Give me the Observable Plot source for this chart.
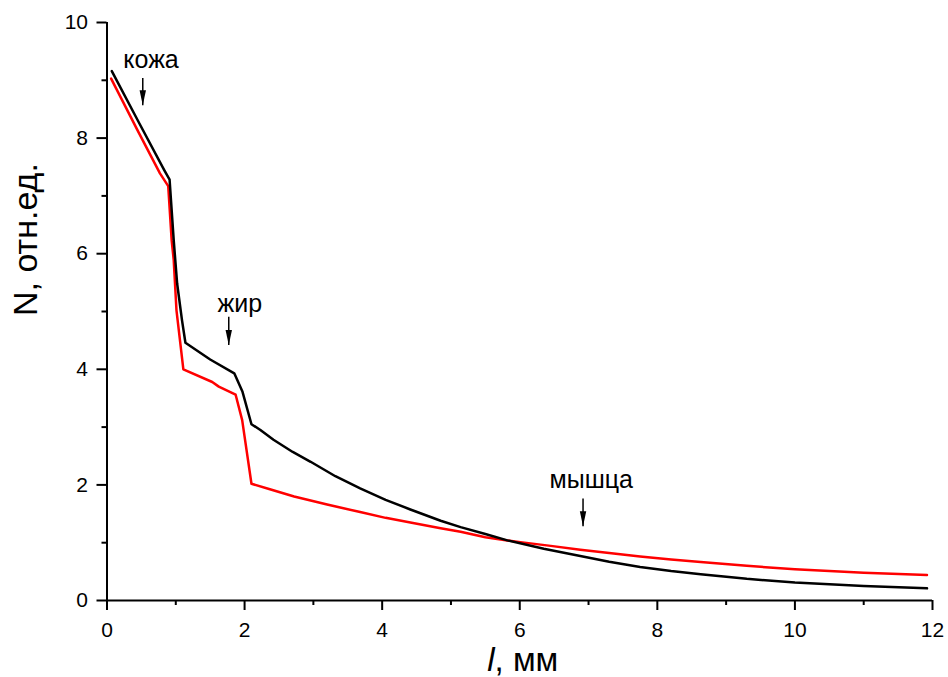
<!DOCTYPE html>
<html>
<head>
<meta charset="utf-8">
<script src="https://cdn.jsdelivr.net/npm/d3@7"></script>
<script src="https://cdn.jsdelivr.net/npm/@observablehq/plot@0.6"></script>
<style>
  html, body { margin: 0; padding: 0; background: #fff; }
</style>
</head>
<body>
<div id="chart"></div>
<script>
// Signal N versus depth l: black and red profiles through skin, fat and muscle
const lBlack = [0.07, 0.45, 0.83, 0.91, 0.97, 1.02, 1.09, 1.14, 1.50, 1.85, 1.97, 2.10, 2.23, 2.42, 2.70, 2.96, 3.32, 3.68, 4.05, 4.41, 4.85, 5.14, 5.50, 5.82, 6.35, 6.88, 7.30, 7.75, 8.20, 8.63, 9.30, 10.0, 11.0, 11.92];
const nBlack = [9.16, 8.30, 7.45, 7.28, 6.23, 5.48, 4.85, 4.46, 4.17, 3.93, 3.61, 3.05, 2.95, 2.78, 2.57, 2.40, 2.15, 1.94, 1.74, 1.575, 1.38, 1.27, 1.15, 1.04, 0.895, 0.77, 0.67, 0.58, 0.51, 0.455, 0.375, 0.31, 0.25, 0.21];

const lRed = [0.06, 0.45, 0.77, 0.89, 0.94, 0.97, 1.01, 1.11, 1.53, 1.625, 1.87, 1.965, 2.10, 2.38, 2.72, 3.20, 3.68, 4.05, 4.41, 4.85, 5.14, 5.50, 5.82, 6.01, 6.45, 6.88, 7.30, 7.75, 8.20, 8.63, 9.30, 10.0, 11.0, 11.92];
const nRed = [9.03, 8.12, 7.39, 7.17, 6.23, 5.89, 5.02, 4.00, 3.78, 3.70, 3.56, 3.12, 2.02, 1.92, 1.80, 1.66, 1.53, 1.43, 1.35, 1.25, 1.19, 1.095, 1.04, 1.01, 0.945, 0.88, 0.82, 0.76, 0.71, 0.665, 0.60, 0.54, 0.48, 0.44];

// Axis ticks
const xMajor = [0, 2, 4, 6, 8, 10, 12];
const xMinor = [1, 3, 5, 7, 9, 11];
const yMajor = [0, 2, 4, 6, 8, 10];
const yMinor = [1, 3, 5, 7, 9];

// Layer annotations with pointer arrows
const labels = ["кожа", "жир", "мышца"];
const labelL = [0.64, 1.93, 7.04];
const labelN = [9.21, 4.99, 1.955];
const arrowL = [0.52, 1.77, 6.92];
const arrowFrom = [9.04, 4.91, 1.765];
const arrowTo = [8.57, 4.42, 1.286];

const xTitle = "l, мм";
const yTitle = "N, отн.ед.";

const font = "'Liberation Sans', Arial, sans-serif";

const plot = Plot.plot({
  width: 948,
  height: 677,
  marginLeft: 106.5,
  marginRight: 16,
  marginTop: 22,
  marginBottom: 77,
  x: {domain: [0, 12]},
  y: {domain: [0, 10]},
  style: {fontFamily: font, fontSize: "21px", color: "#000", background: "#fff", overflow: "visible"},
  marks: [
    Plot.axisX(xMinor, {tickSize: 5, strokeWidth: 2, tickFormat: () => "", label: null}),
    Plot.axisY(yMinor, {tickSize: 5, strokeWidth: 2, tickFormat: () => "", label: null}),
    Plot.axisX(xMajor, {tickSize: 10, strokeWidth: 2, tickPadding: 12, fontSize: 21, tickFormat: (d) => String(d), label: null}),
    Plot.axisY(yMajor, {tickSize: 10, strokeWidth: 2, tickPadding: 9, fontSize: 21, tickFormat: (d) => String(d), label: null}),
    Plot.ruleY([0], {strokeWidth: 2}),
    Plot.ruleX([0], {strokeWidth: 2}),
    Plot.line(nRed, {x: lRed, y: nRed, stroke: "#ff0000", strokeWidth: 2.5}),
    Plot.line(nBlack, {x: lBlack, y: nBlack, stroke: "#000", strokeWidth: 2.5}),
    Plot.text(labels, {x: labelL, y: labelN, text: labels, fontSize: 25, lineAnchor: "bottom", fill: "#000"}),
    Plot.link(arrowL, {x1: arrowL, x2: arrowL, y1: arrowFrom, y2: arrowTo, stroke: "#000", strokeWidth: 1.5}),
    Plot.vector(arrowL, {x: arrowL, y: arrowTo, length: 15, rotate: 180, anchor: "end", shape: "spike", r: 3.2, fill: "#000", stroke: "none"}),
    Plot.text([yTitle], {frameAnchor: "left", rotate: -90, dx: -80.5, dy: 4.5, fontSize: 34, fill: "#000"}),
    Plot.text([xTitle], {frameAnchor: "bottom", dy: 70, dx: 3, lineAnchor: "bottom", fontSize: 33, fill: "#000"})
  ]
});

// Italic variable name in the x-axis title
d3.select(plot).selectAll("text")
  .filter(function () { return this.textContent === xTitle; })
  .each(function () {
    const t = d3.select(this);
    t.text(null);
    t.append("tspan").attr("font-style", "italic").text("l");
    t.append("tspan").text(", мм");
  });

document.getElementById("chart").appendChild(plot);
</script>
</body>
</html>
